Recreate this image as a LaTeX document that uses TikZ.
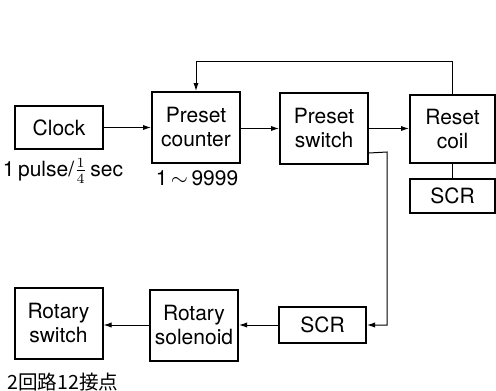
\documentclass[tikz,border=0pt]{standalone}
\usepackage{fontspec}
\setmainfont{TeX Gyre Heros}
\newfontfamily\cjk{Noto Sans CJK JP}
\usepackage{tikz}
\usetikzlibrary{arrows.meta, positioning, calc}

\begin{document}
\begin{tikzpicture}[x=0.5pt, y=-0.5pt, font=\fontsize{10.5}{12}\selectfont,
    block/.style={draw, line width=1pt, align=center, inner sep=1pt,
                  minimum width=44pt, minimum height=35.5pt},
    flow/.style={line width=0.5pt, -{Latex[length=4pt, width=2.6pt]}},
    wire/.style={line width=0.5pt}]
      \useasboundingbox (0,0) rectangle (496,390);
      % top row
      \node[block, minimum height=21.5pt] (clock) at (59,127.5) {Clock};
      \node[block] (counter) at (196,127.5) {Preset\\counter};
      \node[block] (pswitch) at (324,128.5) {Preset\\switch};
      \node[block, minimum width=42.5pt, minimum height=34pt] (coil) at (452.5,129) {Reset\\coil};
      \node[block, minimum width=42.5pt, minimum height=17pt] (scrtop) at (452.5,196) {SCR};
      \node[inner sep=0pt] (pulse) at (63,171) {1\,pulse/$\frac{1}{4}$\,sec};
      \node (range) at (197,178) {1\,$\sim$\,9999};
      % bottom row
      \node[block, minimum width=43.5pt, minimum height=18pt] (scrbot) at (322.5,325) {SCR};
      \node[block] (solenoid) at (194,325) {Rotary\\solenoid};
      \node[block] (rswitch) at (58.5,323) {Rotary\\switch};
      \node (contacts) at (63,382) {\cjk\fontsize{9.8}{11}\selectfont 2回路12接点};
      % connectors
      \draw[flow] (clock) -- (counter.west |- clock);
      \draw[flow] (counter.east |- pswitch) -- (pswitch);
      \draw[flow] (pswitch) -- (coil.west |- pswitch);
      \draw[flow] (coil.north) -- ++(0,-32) -| (counter.north);
      \draw[wire] (coil) -- (scrtop);
      \draw[flow] ($(pswitch.south east)+(0,-12)$) -- (387,152) |- (scrbot.east);
      \draw[flow] (scrbot) -- (solenoid.east |- scrbot);
      \draw[flow] (solenoid) -- (rswitch.east |- solenoid);
    \end{tikzpicture}
\end{document}
